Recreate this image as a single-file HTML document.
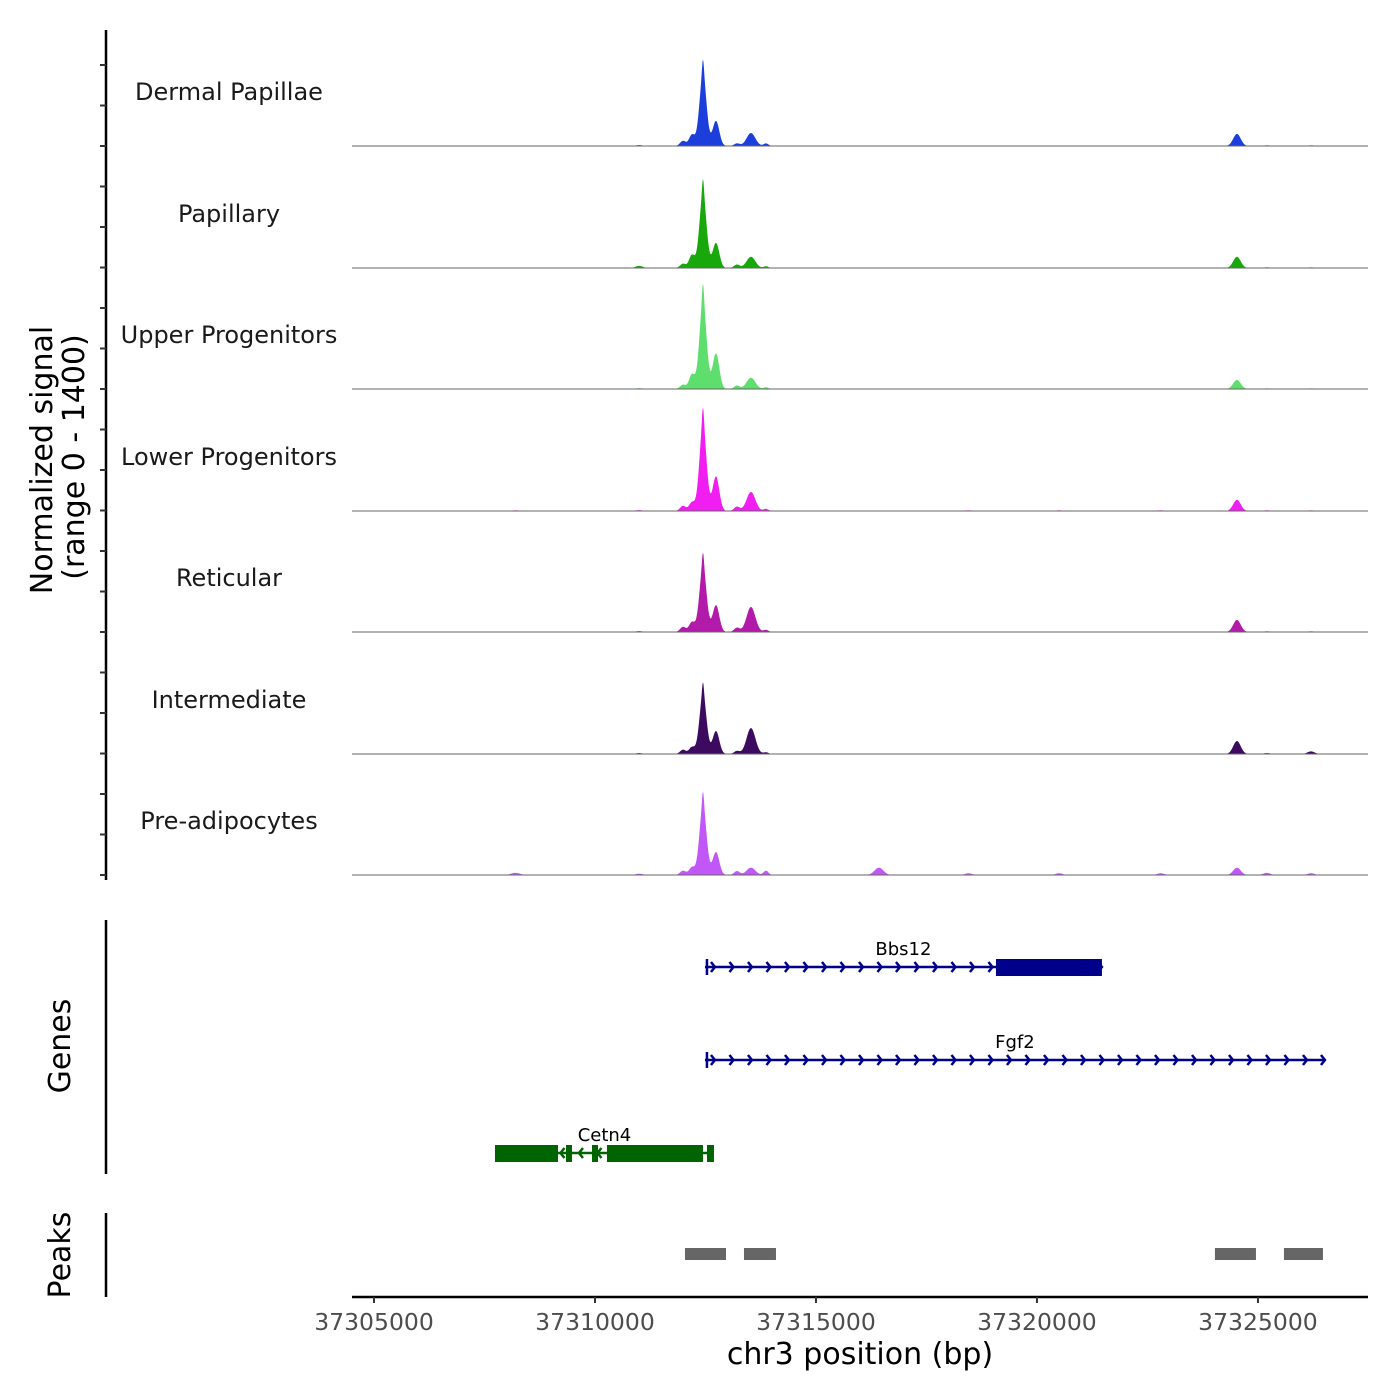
<!DOCTYPE html>
<html><head><meta charset="utf-8"><style>
body{margin:0;background:#fff}
svg{display:block;font-family:"DejaVu Sans","Liberation Sans",sans-serif}
</style></head><body>
<svg id="chart" width="1400" height="1400" viewBox="0 0 1400 1400"></svg>
<script>
// ---- data ----
const trackNames = ["Dermal Papillae","Papillary","Upper Progenitors","Lower Progenitors","Reticular","Intermediate","Pre-adipocytes"];
const trackColors = ["#1c3fdc","#19a80c","#5ede6c","#f01ef0","#b21aaa","#3c0a5e","#c257f7"];
const peakCenters = [37311991,37312194,37312443,37312737,37313212,37313529,37313869,37324525,37316425,37308200,37318450,37320500,37322800,37325200,37326200,37311000];
const peakWidths  = [65,65,80,75,65,100,55,85,100,100,80,80,80,80,80,80];
const hDP  = [60,130,1000,290,30,150,30,140,0,5,5,5,5,8,8,10];
const hPap = [50,150,1030,290,40,130,20,130,0,5,5,5,5,8,8,25];
const hUp  = [50,170,1220,410,40,130,20,105,0,5,5,5,5,8,8,10];
const hLow = [60,100,1200,400,50,220,25,130,0,8,8,8,8,8,8,10];
const hRet = [60,115,920,310,50,290,25,140,0,5,5,5,5,8,8,10];
const hInt = [50,80,830,265,35,300,20,150,0,5,5,5,5,10,30,10];
const hPre = [50,90,965,265,45,85,50,85,85,25,20,20,20,25,20,15];
const trackHeights = [hDP,hPap,hUp,hLow,hRet,hInt,hPre];
const xTicks = [37305000,37310000,37315000,37320000,37325000];
const geneNames = ["Bbs12","Fgf2","Cetn4"];
const geneStart = [37312488,37312488,37307737];
const geneEnd   = [37321470,37326516,37312692];
const geneStrand= [1,1,-1];
const geneColor = ["#00008b","#00008b","#006400"];
const geneExons = [[[37319072,37321470]],[],[[37307737,37309163],[37309344,37309479],[37309932,37310068],[37310271,37312443],[37312534,37312692]]];
const peakStart = [37312036,37313371,37324027,37325588];
const peakEnd   = [37312964,37314095,37324955,37326471];

// ---- scales ----
const X0=352,X1=1368,D0=37304502,D1=37327490;
const xs=v=>X0+(v-D0)/(D1-D0)*(X1-X0);
const baselines=[146,268,389,511,632,754,875];
const yscale=v=>v/1400*121;
const svg=document.getElementById('chart');
const NS='http://www.w3.org/2000/svg';
function mk(tag,attrs,parent){const e=document.createElementNS(NS,tag);for(const k in attrs)e.setAttribute(k,attrs[k]);(parent||svg).appendChild(e);return e;}

trackNames.forEach((nm,i)=>{
  const g=mk('g',{});
  
  
  const b=baselines[i];const hs=trackHeights[i];
  let d='M'+X0+','+b;
  for(let x=X0;x<=X1;x+=0.5){
    const bp=D0+(x-X0)/(X1-X0)*(D1-D0);
    let v=0;
    peakCenters.forEach((c,j)=>{const s=peakWidths[j];const z=(bp-c)/s;v+=(j===2?0.82:1)*hs[j]*Math.exp(-0.5*z*z);});
    const z2=(bp-peakCenters[2])/22;v+=hs[2]*0.18*Math.exp(-0.5*z2*z2);
    d+=' L'+x+','+(b-yscale(v)).toFixed(2);
  }
  d+=' L'+X1+','+b+' Z';
  const p=mk('path',{d:d,fill:trackColors[i],stroke:'none'},g);
  
  
  const ln=mk('line',{x1:X0,x2:X1,y1:b,y2:b,stroke:'#666',"stroke-width":1},g);
  
  
  const t=mk('text',{x:229,y:b-46,"text-anchor":"middle","font-size":24,fill:'#1a1a1a'},g);
  t.textContent=nm;
  
  
});

const ax=mk('line',{x1:106,x2:106,y1:30,y2:880,stroke:'#000',"stroke-width":2.5});


for(let k=0;k<=20;k++){const y=875-k*40.5;const tk=mk('line',{x1:100,x2:106,y1:y,y2:y,stroke:'#333',"stroke-width":2});
  
  }
const ga=mk('line',{x1:106,x2:106,y1:920,y2:1174,stroke:'#000',"stroke-width":2.5});


const pa=mk('line',{x1:106,x2:106,y1:1213,y2:1297,stroke:'#000',"stroke-width":2.5});



const geneY=[967,1060,1153];
geneNames.forEach((nm,i)=>{
  const g=mk('g',{});
  
  
  const y=geneY[i],c=geneColor[i],a=xs(geneStart[i]),bb=xs(geneEnd[i]);
  mk('line',{x1:a,x2:bb,y1:y,y2:y,stroke:c,"stroke-width":2.5},g);
  mk('line',{x1:a+2,x2:a+2,y1:y-8,y2:y+8,stroke:c,"stroke-width":2.5},g);
  const s=geneStrand[i];
  for(let x=a+10;x<bb;x+=18.5){
    mk('polyline',{points:(x-4*s)+','+(y-5)+' '+x+','+y+' '+(x-4*s)+','+(y+5),fill:'none',stroke:c,"stroke-width":2.5},g);
  }
  if(s>0)mk('polyline',{points:(bb-4)+','+(y-5)+' '+bb+','+y+' '+(bb-4)+','+(y+5),fill:'none',stroke:c,"stroke-width":2.5},g);
  geneExons[i].forEach(e=>{mk('rect',{x:xs(e[0]),y:y-8,width:xs(e[1])-xs(e[0]),height:17,fill:c},g);});
  const t=mk('text',{x:(a+bb)/2,y:y-12,"text-anchor":"middle","font-size":18,fill:'#000'},g);
  t.textContent=nm;
});

peakStart.forEach((s,i)=>{const r=mk('rect',{x:xs(s),y:1248,width:xs(peakEnd[i])-xs(s),height:12,fill:'#666'});
  
  });

const xa=mk('line',{x1:X0,x2:X1,y1:1297,y2:1297,stroke:'#000',"stroke-width":2.5});


xTicks.forEach(v=>{const x=xs(v);
  const tk=mk('line',{x1:x,x2:x,y1:1297,y2:1303,stroke:'#333',"stroke-width":2});
  
  
  const t=mk('text',{x:x,y:1330,"text-anchor":"middle","font-size":23.5,fill:'#4d4d4d'});t.textContent=v;
  
  });
</script>
<div style="position:absolute;left:0;top:0;width:1400px;height:1400px;pointer-events:none">
<svg width="1400" height="1400" style="position:absolute;left:0;top:0">
<text x="860" y="1364" text-anchor="middle" font-size="30" fill="#000" font-family="DejaVu Sans, sans-serif">chr3 position (bp)</text>
<text transform="translate(52,460) rotate(-90)" text-anchor="middle" font-size="30" fill="#000" font-family="DejaVu Sans, sans-serif">Normalized signal</text>
<text transform="translate(84,457) rotate(-90)" text-anchor="middle" font-size="30" fill="#000" font-family="DejaVu Sans, sans-serif">(range 0 - 1400)</text>
<text transform="translate(70,1046) rotate(-90)" text-anchor="middle" font-size="30" fill="#000" font-family="DejaVu Sans, sans-serif">Genes</text>
<text transform="translate(70,1255) rotate(-90)" text-anchor="middle" font-size="30" fill="#000" font-family="DejaVu Sans, sans-serif">Peaks</text>
</svg></div>
</body></html>
